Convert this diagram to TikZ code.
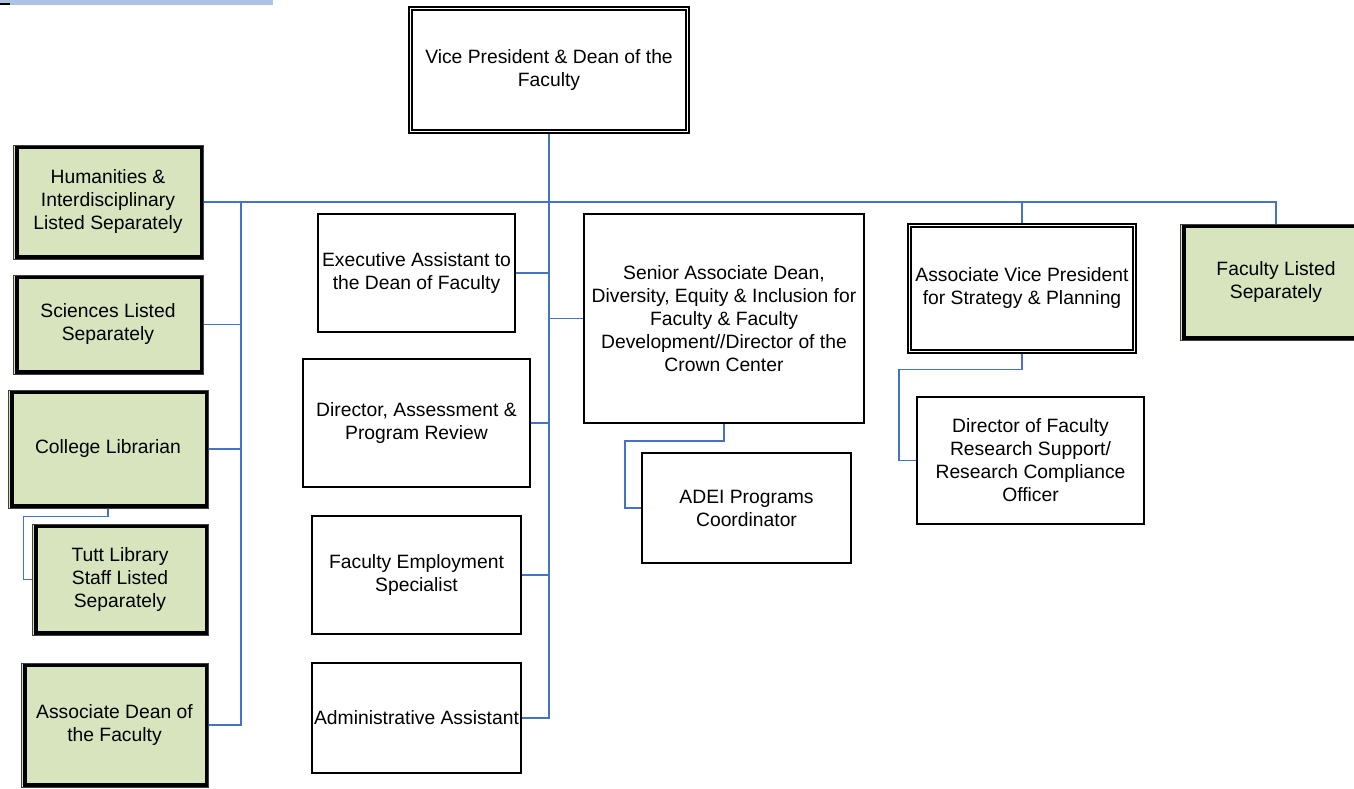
\documentclass[tikz,border=0pt]{standalone}
\usepackage{fontspec}
\setmainfont{Liberation Sans}
\definecolor{grn}{HTML}{D7E4BD}
\definecolor{conblue}{HTML}{4472C4}
\definecolor{barblue}{HTML}{AEC3E4}
\begin{document}
\begin{tikzpicture}[x=1pt,y=-1pt,
  every node/.style={font=\fontsize{19.3}{23}\selectfont, align=center, inner sep=0pt},
  plainbox/.style={draw=black, line width=1.5pt, fill=white, rectangle},
  dblbox/.style={draw=black, line width=1.2pt, fill=white, rectangle},
  greenbox/.style={draw=black!75, line width=1pt, fill=grn, rectangle},
  innerthin/.style={draw=black, line width=2pt},
  innerthick/.style={draw=black, line width=3.2pt},
  conn/.style={draw=conblue, line width=1.7pt}]
\useasboundingbox (0,0) rectangle (1354,789);
\fill[white] (0,0) rectangle (1354,789);
\clip (0,0) rectangle (1354,789);
% top fragment
\fill[barblue] (0,0) rectangle (273,5);
\draw[black, line width=1.6pt] (0,4.3) -- (10,4.3);

% nodes
\node[dblbox, minimum width=280, minimum height=126] (vp) at (549,70) {Vice President \& Dean of the\\Faculty};
\node[greenbox, minimum width=190, minimum height=114] (hum) at (108,202) {Humanities \&\\Interdisciplinary\\Listed Separately};
\node[greenbox, minimum width=190, minimum height=99] (sci) at (108,324.5) {Sciences Listed\\Separately};
\node[greenbox, minimum width=200, minimum height=118] (lib) at (108,449) {College Librarian};
\node[greenbox, minimum width=176, minimum height=111] (tutt) at (120,579.5) {Tutt Library\\Staff Listed\\Separately};
\node[greenbox, minimum width=187, minimum height=124] (assoc) at (114.5,725) {Associate Dean of\\the Faculty};
\node[greenbox, minimum width=192, minimum height=116] (fac) at (1276,282) {Faculty Listed\\Separately};
\node[dblbox, minimum width=228, minimum height=129] (avp) at (1022,288.5) {Associate Vice President\\for Strategy \& Planning};
\node[plainbox, minimum width=197, minimum height=118] (exec) at (416.5,273) {Executive Assistant to\\the Dean of Faculty};
\node[plainbox, minimum width=227, minimum height=128] (dira) at (416.5,423) {Director, Assessment \&\\Program Review};
\node[plainbox, minimum width=209, minimum height=118] (fes) at (416.5,575) {Faculty Employment\\Specialist};
\node[plainbox, minimum width=209, minimum height=110] (admin) at (416.5,718) {Administrative Assistant};
\node[plainbox, minimum width=280, minimum height=209] (sen) at (724,318.5) {Senior Associate Dean,\\Diversity, Equity \& Inclusion for\\Faculty \& Faculty\\Development//Director of the\\Crown Center};
\node[plainbox, minimum width=209, minimum height=110] (adei) at (746.5,508) {ADEI Programs\\Coordinator};
\node[plainbox, minimum width=227, minimum height=127] (dirr) at (1030.5,460.5) {Director of Faculty\\Research Support/\\Research Compliance\\Officer};

% inner frames
\foreach \n in {vp,avp}
  \draw[innerthin] ([shift={(4,4)}]\n.north west) rectangle ([shift={(-4,-4)}]\n.south east);
\foreach \n in {hum,sci,lib,tutt,assoc,fac}
  \draw[innerthick] ([shift={(4.5,3)}]\n.north west) rectangle ([shift={(-2,-2.5)}]\n.south east);

% connectors
\coordinate (lt) at (241,202);
\draw[conn] (hum.east) -| (fac.north);
\draw[conn] (avp.north) -- (avp.north |- hum.east);
\draw[conn] (vp.south) |- (admin.east);
\draw[conn] (exec.east) -| (vp.south);
\draw[conn] (dira.east) -| (vp.south);
\draw[conn] (fes.east) -| (vp.south);
\draw[conn] (sen.west) -| (vp.south);
\draw[conn] (lt) |- (assoc.east);
\draw[conn] (sci.east) -| (lt);
\draw[conn] (lib.east) -| (lt);
\draw[conn] (lib.south) -- ++(0,8) -| ([xshift=-8]tutt.west) -- (tutt.west);
\draw[conn] (sen.south) -- ++(0,17) -| ([xshift=-16]adei.west) -- (adei.west);
\draw[conn] (avp.south) -- ++(0,16) -| ([xshift=-17]dirr.west) -- (dirr.west);
\end{tikzpicture}
\end{document}
